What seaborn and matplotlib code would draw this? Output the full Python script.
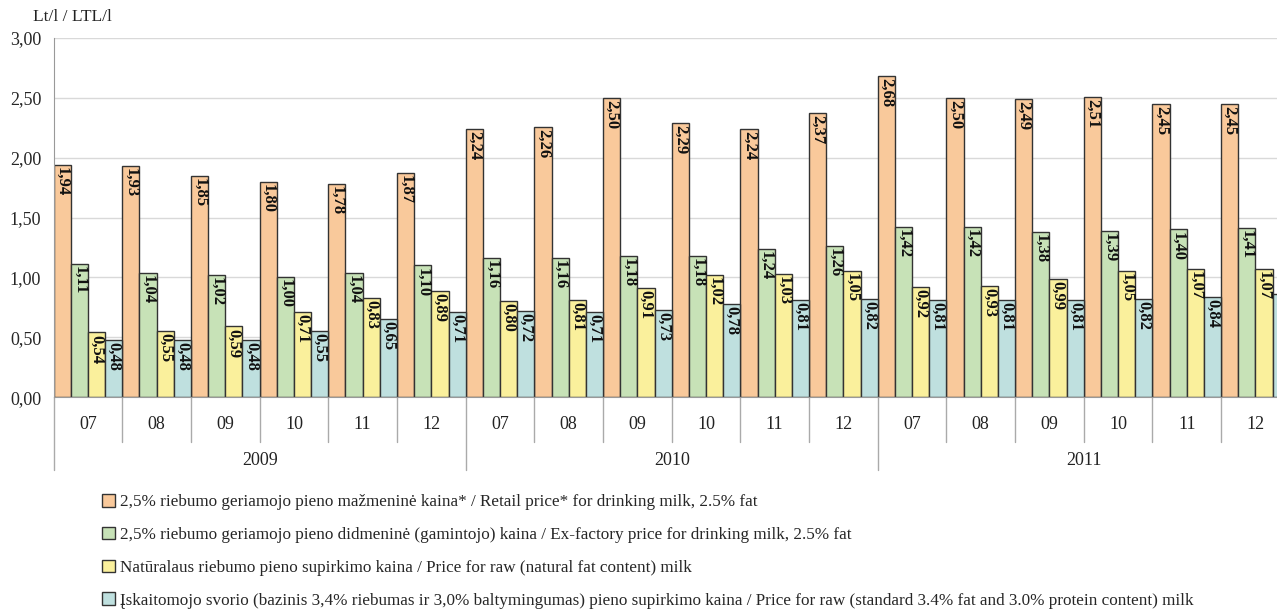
import numpy as np
import pandas as pd
import matplotlib
matplotlib.use("Agg")
import matplotlib.pyplot as plt
import matplotlib.patches as mpatches
import matplotlib.transforms as mtransforms
import seaborn as sns

years = ["2009", "2010", "2011"]
months = ["07", "08", "09", "10", "11", "12"]

retail = [1.94, 1.93, 1.85, 1.80, 1.78, 1.87,
          2.24, 2.26, 2.50, 2.29, 2.24, 2.37,
          2.68, 2.50, 2.49, 2.51, 2.45, 2.45]
exfactory = [1.11, 1.04, 1.02, 1.00, 1.04, 1.10,
             1.16, 1.16, 1.18, 1.18, 1.24, 1.26,
             1.42, 1.42, 1.38, 1.39, 1.40, 1.41]
raw_natural = [0.54, 0.55, 0.59, 0.71, 0.83, 0.89,
               0.80, 0.81, 0.91, 1.02, 1.03, 1.05,
               0.92, 0.93, 0.99, 1.05, 1.07, 1.07]
raw_standard = [0.48, 0.48, 0.48, 0.55, 0.65, 0.71,
                0.72, 0.71, 0.73, 0.78, 0.81, 0.82,
                0.81, 0.81, 0.81, 0.82, 0.84, 0.86]

series_names = [
    "2,5% riebumo geriamojo pieno mažmeninė kaina* / Retail price* for drinking milk, 2.5% fat",
    "2,5% riebumo geriamojo pieno didmeninė (gamintojo) kaina / Ex-factory price for drinking milk, 2.5% fat",
    "Natūralaus riebumo pieno supirkimo kaina / Price for raw (natural fat content) milk",
    "Įskaitomojo svorio (bazinis 3,4% riebumas ir 3,0% baltymingumas) pieno supirkimo kaina / Price for raw (standard 3.4% fat and 3.0% protein content) milk",
]
colors = ["#F9C99B", "#C7E2B7", "#FAF09C", "#BFE0DF"]

periods = [f"{y}-{m}" for y in years for m in months]
rows = []
for name, vals in zip(series_names, [retail, exfactory, raw_natural, raw_standard]):
    for p, v in zip(periods, vals):
        rows.append({"period": p, "series": name, "value": v})
df = pd.DataFrame(rows)

sns.set_style("white")
plt.rcParams["font.family"] = ["Liberation Serif", "DejaVu Serif"]

fig = plt.figure(figsize=(12.77, 6.11), dpi=100)
ax = fig.add_axes([0.042, 0.350, 0.968, 0.588])

sns.barplot(data=df, x="period", y="value", hue="series", palette=colors,
            width=1.0, edgecolor="#333333", linewidth=1.0, saturation=1,
            legend=False, ax=ax)

ax.set_ylim(0, 3.0)
ax.set_xlim(-0.5, len(periods) - 0.5)
ax.set_yticks(np.arange(0, 3.01, 0.5))
ax.set_yticklabels([f"{t:.2f}".replace(".", ",") for t in np.arange(0, 3.01, 0.5)], fontsize=13)
ax.yaxis.grid(True, color="#d9d9d9", linewidth=1)
ax.set_axisbelow(True)
ax.tick_params(axis="y", length=5, color="#999999", pad=4)
ax.set_xticks([])
ax.set_xlabel("")
ax.set_ylabel("")
for s in ["top", "right"]:
    ax.spines[s].set_visible(False)
ax.spines["left"].set_color("#999999")
ax.spines["bottom"].set_color("#999999")

# value labels inside bars, rotated
for patch in ax.patches:
    h = patch.get_height()
    if h <= 0:
        continue
    x = patch.get_x() + patch.get_width() / 2
    ax.annotate(f"{h:.2f}".replace(".", ","), (x, h), xytext=(0, -1.5),
                textcoords="offset points", rotation=-90, ha="center", va="top",
                fontsize=12, fontweight="bold", color="#111111")

# category axis: months and years
trans = mtransforms.blended_transform_factory(ax.transData, ax.transAxes)
ax_h_px = 0.588 * 611
for i, p in enumerate(periods):
    ax.text(i, -27 / ax_h_px, p.split("-")[1], transform=trans, ha="center",
            va="center", fontsize=13, color="#222222")
for i in range(len(periods) + 1):
    xb = i - 0.5
    if i % 6 == 0:
        y_end = -73 / ax_h_px
    else:
        y_end = -45 / ax_h_px
    ax.plot([xb, xb], [0, y_end], transform=trans, color="#aaaaaa",
            linewidth=1, clip_on=False)
for j, y in enumerate(years):
    ax.text(j * 6 + 2.5, -63 / ax_h_px, y, transform=trans, ha="center",
            va="center", fontsize=13, color="#222222")

fig.text(33 / 1277, 1 - 17 / 611, "Lt/l / LTL/l", ha="left", va="center",
         fontsize=12.5, color="#222222")

handles = [mpatches.Patch(facecolor=c, edgecolor="#333333", linewidth=1) for c in colors]
fig.legend(handles, series_names, loc="upper left",
           bbox_to_anchor=(102 / 1277, 1 - 494 / 611), frameon=False,
           fontsize=12.3, handlelength=0.75, handleheight=0.75, handletextpad=0.3,
           labelspacing=0.97, borderpad=0, borderaxespad=0)

fig.savefig("out.png", dpi=100)
